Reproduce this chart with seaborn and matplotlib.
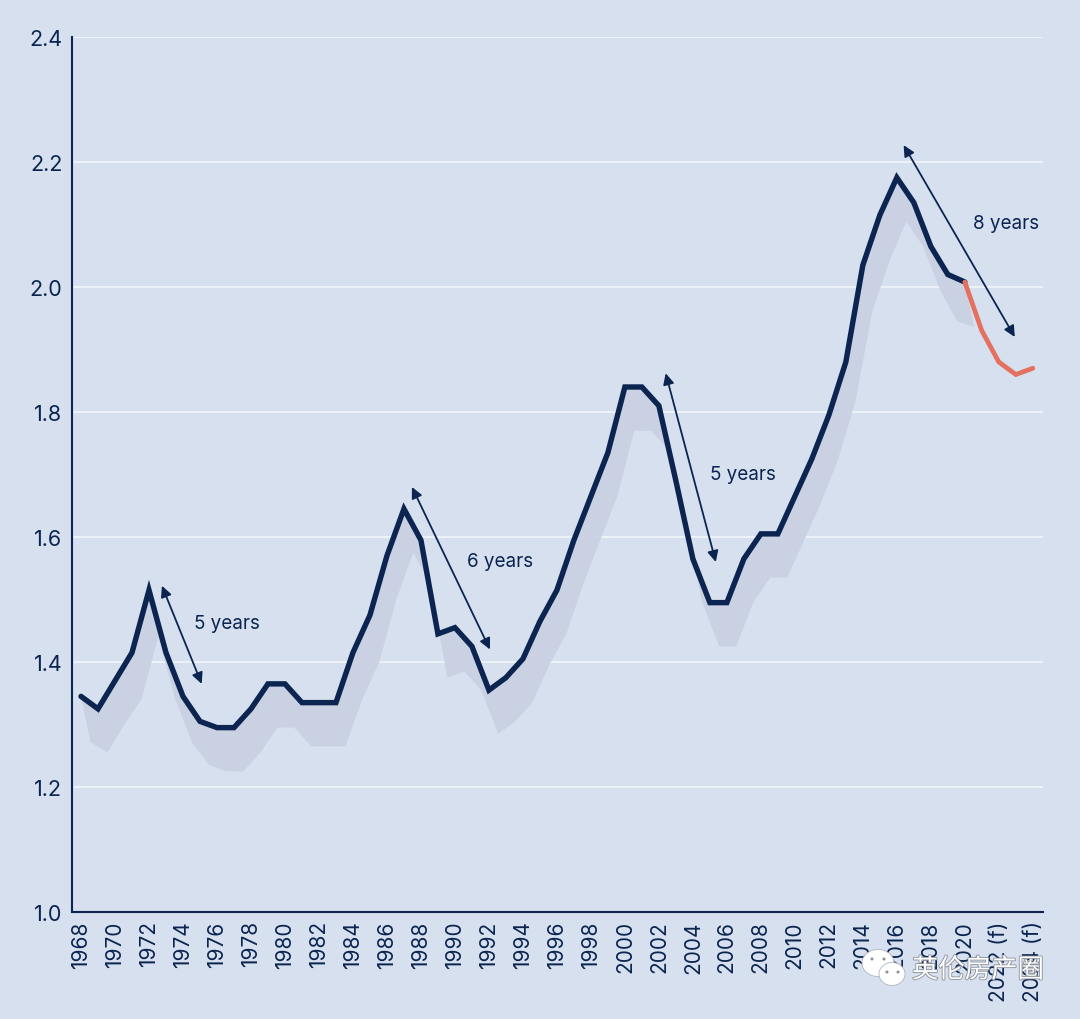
import numpy as np
import pandas as pd
import matplotlib
matplotlib.use('Agg')
import matplotlib.pyplot as plt
import matplotlib.patheffects as pe
from matplotlib.patches import Ellipse, Polygon
import seaborn as sns

# Data
years = list(range(1968, 2021))
actual = [1.345, 1.325, 1.37, 1.415, 1.515, 1.415, 1.345, 1.305, 1.295, 1.295,
          1.325, 1.365, 1.365, 1.335, 1.335, 1.335, 1.415, 1.475, 1.57, 1.645,
          1.595, 1.445, 1.455, 1.425, 1.355, 1.375, 1.405, 1.465, 1.515, 1.595,
          1.665, 1.735, 1.84, 1.84, 1.81, 1.69, 1.565, 1.495, 1.495, 1.565,
          1.605, 1.605, 1.665, 1.725, 1.795, 1.88, 2.035, 2.115, 2.175, 2.135,
          2.065, 2.02, 2.008]
forecast_years = [2020, 2021, 2022, 2023, 2024]
forecast = [2.008, 1.93, 1.88, 1.86, 1.87]
shadow = [1.272, 1.255, 1.30, 1.34, 1.44, 1.34, 1.27, 1.235, 1.225, 1.225,
          1.255, 1.295, 1.295, 1.265, 1.265, 1.265, 1.34, 1.40, 1.50, 1.575,
          1.525, 1.375, 1.385, 1.355, 1.285, 1.305, 1.335, 1.395, 1.445, 1.525,
          1.595, 1.665, 1.77, 1.77, 1.74, 1.62, 1.495, 1.425, 1.425, 1.495,
          1.535, 1.535, 1.595, 1.655, 1.725, 1.815, 1.96, 2.04, 2.105, 2.065,
          1.995, 1.945, 1.936]
tick_years = list(range(1968, 2025, 2))
tick_labels = [str(y) for y in range(1968, 2021, 2)] + ['2022 (f)', '2024 (f)']
y_ticks = [1.0, 1.2, 1.4, 1.6, 1.8, 2.0, 2.2, 2.4]
cycle_labels = ['5 years', '6 years', '5 years', '8 years']
cycle_from = [(1972.76, 1.522), (1987.47, 1.68), (2002.4, 1.862), (2016.4, 2.227)]
cycle_to = [(1975.1, 1.365), (1992.06, 1.42), (2005.35, 1.56), (2022.94, 1.92)]
cycle_text = [(1976.6, 1.463), (1992.65, 1.561), (2006.94, 1.701), (2022.4, 2.103)]

BG = '#d7e0ef'
NAVY = '#0b2550'
CORAL = '#e4705f'
SHADE = '#c9d0e2'
W, H = 1080, 1020

sns.set_theme(style='white')
plt.rcParams['font.family'] = ['Inter', 'DejaVu Sans']

fig = plt.figure(figsize=(W / 100, H / 100), dpi=100, facecolor=BG)
ax = fig.add_axes([72 / W, (H - 913) / H, (1043 - 72) / W, (913 - 38) / H], facecolor=BG)

# grid first, the shadow sits on top of it
for v in y_ticks[1:]:
    ax.axhline(v, color='#f4f7fb', lw=1.1, zorder=1)

# soft shadow under the line, offset a bit right and down
shadow_x = [y + 0.55 for y in years]
poly = list(zip(years, actual)) + list(zip(shadow_x, shadow))[::-1]
ax.add_patch(Polygon(poly, closed=True, facecolor=SHADE, edgecolor='none', alpha=0.92, zorder=2))

df = pd.DataFrame({'year': years, 'value': actual})
df_f = pd.DataFrame({'year': forecast_years, 'value': forecast})
sns.lineplot(data=df, x='year', y='value', ax=ax, color=NAVY, lw=3.9, zorder=3,
             errorbar=None, solid_joinstyle='miter', solid_capstyle='round')
sns.lineplot(data=df_f, x='year', y='value', ax=ax, color=CORAL, lw=3.4, zorder=4,
             errorbar=None, solid_joinstyle='miter', solid_capstyle='round')

# cycle arrows
for lab, a, b, t in zip(cycle_labels, cycle_from, cycle_to, cycle_text):
    ax.annotate('', xy=b, xytext=a, zorder=5,
                arrowprops=dict(arrowstyle='<|-|>,head_length=0.55,head_width=0.27', color=NAVY,
                                lw=1.3, shrinkA=0, shrinkB=0))
    ax.text(t[0], t[1], lab, color=NAVY, fontsize=13.6, ha='center', va='center', zorder=5)

ax.set_xlim(1967.47, 2024.6)
ax.set_ylim(1.0, 2.4)
ax.set_xticks(tick_years)
ax.set_xticklabels(tick_labels, rotation=90, fontsize=15, color=NAVY)
ax.set_yticks(y_ticks)
ax.set_yticklabels([f'{v:.1f}' for v in y_ticks], fontsize=15.5, color=NAVY)
ax.tick_params(axis='both', length=0)
ax.tick_params(axis='x', pad=6)
ax.tick_params(axis='y', pad=7)
ax.set_xlabel('')
ax.set_ylabel('')
sns.despine(ax=ax)
for side in ['left', 'bottom']:
    ax.spines[side].set_color(NAVY)
    ax.spines[side].set_linewidth(1.5)

# watermark bottom right
halo = [pe.withStroke(linewidth=1.2, foreground='#8a8f99')]
fig.text(912 / W, (H - 971) / H, '英伦房产圈', color='white', fontsize=19, va='center', ha='left',
         family=['Noto Sans CJK SC', 'DejaVu Sans'], path_effects=halo, zorder=10)
for cx, cy, w, h in [(878, 964, 32, 27), (892, 975, 26, 23)]:
    fig.add_artist(Ellipse((cx / W, (H - cy) / H), w / W, h / H, transform=fig.transFigure,
                           facecolor='white', edgecolor='#b0b5bd', lw=0.6, zorder=9))
for dx, dy in [(872, 960), (884, 960), (887, 973), (898, 973)]:
    fig.add_artist(Ellipse((dx / W, (H - dy) / H), 3 / W, 3 / H, transform=fig.transFigure,
                           facecolor='#8a8f99', edgecolor='none', zorder=11))

fig.savefig('out.png', dpi=100, facecolor=BG)
